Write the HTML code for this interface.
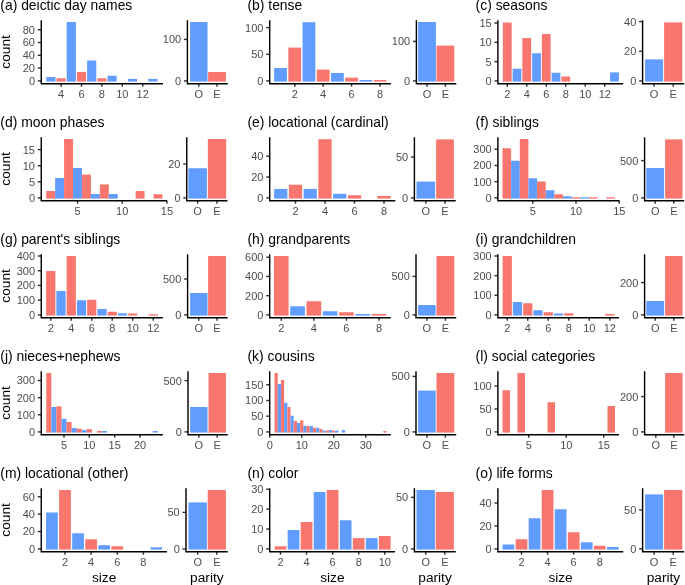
<!DOCTYPE html>
<html><head><meta charset="utf-8"><style>
html,body{margin:0;padding:0;background:#fff;}
svg{display:block;will-change:transform;}
.t{font-family:"Liberation Sans",sans-serif;font-size:13.7px;fill:#000;}
.l{font-family:"Liberation Sans",sans-serif;font-size:11px;fill:#4D4D4D;}

.tt{font-size:13.9px;}
.tk{stroke:#333333;stroke-width:1.42;}
.ax{stroke:#000;stroke-width:1.42;fill:none;stroke-linejoin:miter;stroke-linecap:butt;}
</style></head><body>
<svg width="685" height="585" viewBox="0 0 685 585">
<rect width="685" height="585" fill="#fff"/>
<text x="0.3" y="9.7" class="t tt">(a) deictic day names</text>
<text transform="translate(10,51.9) rotate(-90)" text-anchor="middle" class="t">count</text>
<rect x="46.31" y="77" width="9.18" height="4.6" fill="#619CFF"/>
<rect x="56.51" y="78.3" width="9.18" height="3.3" fill="#F8766D"/>
<rect x="66.71" y="22" width="9.18" height="59.6" fill="#619CFF"/>
<rect x="76.91" y="71.9" width="9.18" height="9.7" fill="#F8766D"/>
<rect x="87.11" y="60.5" width="9.18" height="21.1" fill="#619CFF"/>
<rect x="97.31" y="78.3" width="9.18" height="3.3" fill="#F8766D"/>
<rect x="107.51" y="75.7" width="9.18" height="5.9" fill="#619CFF"/>
<rect x="127.91" y="78.9" width="9.18" height="2.7" fill="#619CFF"/>
<rect x="148.31" y="78.9" width="9.18" height="2.7" fill="#619CFF"/>
<rect x="190.1" y="22" width="17.4" height="59.6" fill="#619CFF"/>
<rect x="208.1" y="72" width="17.8" height="9.6" fill="#F8766D"/>
<line x1="37.75" x2="41.25" y1="80.9" y2="80.9" class="tk"/>
<text x="35" y="84.8" text-anchor="end" class="l">0</text>
<line x1="37.75" x2="41.25" y1="68.1" y2="68.1" class="tk"/>
<text x="35" y="72" text-anchor="end" class="l">20</text>
<line x1="37.75" x2="41.25" y1="55.3" y2="55.3" class="tk"/>
<text x="35" y="59.2" text-anchor="end" class="l">40</text>
<line x1="37.75" x2="41.25" y1="42.5" y2="42.5" class="tk"/>
<text x="35" y="46.4" text-anchor="end" class="l">60</text>
<line x1="37.75" x2="41.25" y1="29.7" y2="29.7" class="tk"/>
<text x="35" y="33.6" text-anchor="end" class="l">80</text>
<line x1="61.1" x2="61.1" y1="83.7" y2="86.7" class="tk"/>
<text x="61.1" y="98" text-anchor="middle" class="l">4</text>
<line x1="81.5" x2="81.5" y1="83.7" y2="86.7" class="tk"/>
<text x="81.5" y="98" text-anchor="middle" class="l">6</text>
<line x1="101.9" x2="101.9" y1="83.7" y2="86.7" class="tk"/>
<text x="101.9" y="98" text-anchor="middle" class="l">8</text>
<line x1="122.3" x2="122.3" y1="83.7" y2="86.7" class="tk"/>
<text x="122.3" y="98" text-anchor="middle" class="l">10</text>
<line x1="142.7" x2="142.7" y1="83.7" y2="86.7" class="tk"/>
<text x="142.7" y="98" text-anchor="middle" class="l">12</text>
<path d="M41.25 20.2V83.7H163" class="ax"/>
<line x1="183.9" x2="187.4" y1="80.9" y2="80.9" class="tk"/>
<text x="181.15" y="84.8" text-anchor="end" class="l">0</text>
<line x1="183.9" x2="187.4" y1="39.4" y2="39.4" class="tk"/>
<text x="181.15" y="43.3" text-anchor="end" class="l">100</text>
<line x1="198.8" x2="198.8" y1="83.7" y2="86.7" class="tk"/>
<text x="198.8" y="98" text-anchor="middle" class="l">O</text>
<line x1="217" x2="217" y1="83.7" y2="86.7" class="tk"/>
<text x="217" y="98" text-anchor="middle" class="l">E</text>
<path d="M187.4 20.2V83.7H227.7" class="ax"/>
<text x="247.45" y="9.7" class="t tt">(b) tense</text>
<rect x="274.15" y="68" width="12.79" height="13.6" fill="#619CFF"/>
<rect x="288.36" y="47.6" width="12.79" height="34" fill="#F8766D"/>
<rect x="302.56" y="22.2" width="12.79" height="59.4" fill="#619CFF"/>
<rect x="316.77" y="69.6" width="12.79" height="12" fill="#F8766D"/>
<rect x="330.98" y="73" width="12.79" height="8.6" fill="#619CFF"/>
<rect x="345.19" y="77.6" width="12.79" height="4" fill="#F8766D"/>
<rect x="359.4" y="80" width="12.79" height="1.6" fill="#619CFF"/>
<rect x="373.61" y="80" width="12.79" height="1.6" fill="#F8766D"/>
<rect x="418.1" y="22" width="17.8" height="59.6" fill="#619CFF"/>
<rect x="436.5" y="45.6" width="17.8" height="36" fill="#F8766D"/>
<line x1="266.2" x2="269.7" y1="80.9" y2="80.9" class="tk"/>
<text x="263.45" y="84.8" text-anchor="end" class="l">0</text>
<line x1="266.2" x2="269.7" y1="54.25" y2="54.25" class="tk"/>
<text x="263.45" y="58.15" text-anchor="end" class="l">50</text>
<line x1="266.2" x2="269.7" y1="27.6" y2="27.6" class="tk"/>
<text x="263.45" y="31.5" text-anchor="end" class="l">100</text>
<line x1="294.75" x2="294.75" y1="83.7" y2="86.7" class="tk"/>
<text x="294.75" y="98" text-anchor="middle" class="l">2</text>
<line x1="323.17" x2="323.17" y1="83.7" y2="86.7" class="tk"/>
<text x="323.17" y="98" text-anchor="middle" class="l">4</text>
<line x1="351.58" x2="351.58" y1="83.7" y2="86.7" class="tk"/>
<text x="351.58" y="98" text-anchor="middle" class="l">6</text>
<line x1="380" x2="380" y1="83.7" y2="86.7" class="tk"/>
<text x="380" y="98" text-anchor="middle" class="l">8</text>
<path d="M269.7 20.2V83.7H390.8" class="ax"/>
<line x1="412.9" x2="416.4" y1="80.9" y2="80.9" class="tk"/>
<text x="410.15" y="84.8" text-anchor="end" class="l">0</text>
<line x1="412.9" x2="416.4" y1="41.4" y2="41.4" class="tk"/>
<text x="410.15" y="45.3" text-anchor="end" class="l">100</text>
<line x1="427" x2="427" y1="83.7" y2="86.7" class="tk"/>
<text x="427" y="98" text-anchor="middle" class="l">O</text>
<line x1="445.4" x2="445.4" y1="83.7" y2="86.7" class="tk"/>
<text x="445.4" y="98" text-anchor="middle" class="l">E</text>
<path d="M416.4 20.2V83.7H456.3" class="ax"/>
<text x="475.6" y="9.7" class="t tt">(c) seasons</text>
<rect x="502.86" y="22.5" width="8.78" height="59.1" fill="#F8766D"/>
<rect x="512.61" y="68.75" width="8.78" height="12.85" fill="#619CFF"/>
<rect x="522.36" y="38" width="8.78" height="43.6" fill="#F8766D"/>
<rect x="532.11" y="53.25" width="8.78" height="28.35" fill="#619CFF"/>
<rect x="541.86" y="34" width="8.78" height="47.6" fill="#F8766D"/>
<rect x="551.61" y="72.75" width="8.78" height="8.85" fill="#619CFF"/>
<rect x="561.36" y="76.5" width="8.78" height="5.1" fill="#F8766D"/>
<rect x="610.11" y="72.4" width="8.78" height="9.2" fill="#619CFF"/>
<rect x="645.1" y="59.4" width="18" height="22.2" fill="#619CFF"/>
<rect x="664.1" y="22.4" width="18.2" height="59.2" fill="#F8766D"/>
<line x1="494.4" x2="497.9" y1="80.9" y2="80.9" class="tk"/>
<text x="491.65" y="84.8" text-anchor="end" class="l">0</text>
<line x1="494.4" x2="497.9" y1="61.6" y2="61.6" class="tk"/>
<text x="491.65" y="65.5" text-anchor="end" class="l">5</text>
<line x1="494.4" x2="497.9" y1="42.3" y2="42.3" class="tk"/>
<text x="491.65" y="46.2" text-anchor="end" class="l">10</text>
<line x1="494.4" x2="497.9" y1="23" y2="23" class="tk"/>
<text x="491.65" y="26.9" text-anchor="end" class="l">15</text>
<line x1="507.25" x2="507.25" y1="83.7" y2="86.7" class="tk"/>
<text x="507.25" y="98" text-anchor="middle" class="l">2</text>
<line x1="526.75" x2="526.75" y1="83.7" y2="86.7" class="tk"/>
<text x="526.75" y="98" text-anchor="middle" class="l">4</text>
<line x1="546.25" x2="546.25" y1="83.7" y2="86.7" class="tk"/>
<text x="546.25" y="98" text-anchor="middle" class="l">6</text>
<line x1="565.75" x2="565.75" y1="83.7" y2="86.7" class="tk"/>
<text x="565.75" y="98" text-anchor="middle" class="l">8</text>
<line x1="585.25" x2="585.25" y1="83.7" y2="86.7" class="tk"/>
<text x="585.25" y="98" text-anchor="middle" class="l">10</text>
<line x1="604.75" x2="604.75" y1="83.7" y2="86.7" class="tk"/>
<text x="604.75" y="98" text-anchor="middle" class="l">12</text>
<path d="M497.9 20.2V83.7H623.2" class="ax"/>
<line x1="639.1" x2="642.6" y1="80.9" y2="80.9" class="tk"/>
<text x="636.35" y="84.8" text-anchor="end" class="l">0</text>
<line x1="639.1" x2="642.6" y1="51.25" y2="51.25" class="tk"/>
<text x="636.35" y="55.15" text-anchor="end" class="l">20</text>
<line x1="639.1" x2="642.6" y1="21.6" y2="21.6" class="tk"/>
<text x="636.35" y="25.5" text-anchor="end" class="l">40</text>
<line x1="654.1" x2="654.1" y1="83.7" y2="86.7" class="tk"/>
<text x="654.1" y="98" text-anchor="middle" class="l">O</text>
<line x1="673.2" x2="673.2" y1="83.7" y2="86.7" class="tk"/>
<text x="673.2" y="98" text-anchor="middle" class="l">E</text>
<path d="M642.6 20.2V83.7H684.2" class="ax"/>
<text x="0.3" y="126.7" class="t tt">(d) moon phases</text>
<text transform="translate(10,168.9) rotate(-90)" text-anchor="middle" class="t">count</text>
<rect x="46.21" y="191" width="8.94" height="7.6" fill="#F8766D"/>
<rect x="55.15" y="178" width="8.94" height="20.6" fill="#619CFF"/>
<rect x="64.09" y="139" width="8.94" height="59.6" fill="#F8766D"/>
<rect x="73.03" y="168" width="8.94" height="30.6" fill="#619CFF"/>
<rect x="81.97" y="174.6" width="8.94" height="24" fill="#F8766D"/>
<rect x="90.91" y="194" width="8.94" height="4.6" fill="#619CFF"/>
<rect x="99.85" y="184.4" width="8.94" height="14.2" fill="#F8766D"/>
<rect x="108.79" y="194" width="8.94" height="4.6" fill="#619CFF"/>
<rect x="135.61" y="191" width="8.94" height="7.6" fill="#F8766D"/>
<rect x="153.49" y="194.25" width="8.94" height="4.35" fill="#F8766D"/>
<rect x="188.35" y="168.25" width="18.55" height="30.35" fill="#619CFF"/>
<rect x="207.85" y="139" width="18.3" height="59.6" fill="#F8766D"/>
<line x1="37.75" x2="41.25" y1="197.9" y2="197.9" class="tk"/>
<text x="35" y="201.8" text-anchor="end" class="l">0</text>
<line x1="37.75" x2="41.25" y1="181.8" y2="181.8" class="tk"/>
<text x="35" y="185.7" text-anchor="end" class="l">5</text>
<line x1="37.75" x2="41.25" y1="165.7" y2="165.7" class="tk"/>
<text x="35" y="169.6" text-anchor="end" class="l">10</text>
<line x1="37.75" x2="41.25" y1="149.6" y2="149.6" class="tk"/>
<text x="35" y="153.5" text-anchor="end" class="l">15</text>
<line x1="77.5" x2="77.5" y1="200.7" y2="203.7" class="tk"/>
<text x="77.5" y="215" text-anchor="middle" class="l">5</text>
<line x1="122.2" x2="122.2" y1="200.7" y2="203.7" class="tk"/>
<text x="122.2" y="215" text-anchor="middle" class="l">10</text>
<line x1="166.9" x2="166.9" y1="200.7" y2="203.7" class="tk"/>
<text x="166.9" y="215" text-anchor="middle" class="l">15</text>
<path d="M41.25 137.2V200.7H167.2" class="ax"/>
<line x1="183.25" x2="186.75" y1="197.9" y2="197.9" class="tk"/>
<text x="180.5" y="201.8" text-anchor="end" class="l">0</text>
<line x1="183.25" x2="186.75" y1="164" y2="164" class="tk"/>
<text x="180.5" y="167.9" text-anchor="end" class="l">20</text>
<line x1="197.62" x2="197.62" y1="200.7" y2="203.7" class="tk"/>
<text x="197.62" y="215" text-anchor="middle" class="l">O</text>
<line x1="217" x2="217" y1="200.7" y2="203.7" class="tk"/>
<text x="217" y="215" text-anchor="middle" class="l">E</text>
<path d="M186.75 137.2V200.7H227.5" class="ax"/>
<text x="247.45" y="126.7" class="t tt">(e) locational (cardinal)</text>
<rect x="274.11" y="188.9" width="13.28" height="9.7" fill="#619CFF"/>
<rect x="288.86" y="184.7" width="13.28" height="13.9" fill="#F8766D"/>
<rect x="303.61" y="188.9" width="13.28" height="9.7" fill="#619CFF"/>
<rect x="318.36" y="139.2" width="13.28" height="59.4" fill="#F8766D"/>
<rect x="333.11" y="193.8" width="13.28" height="4.8" fill="#619CFF"/>
<rect x="347.86" y="195.25" width="13.28" height="3.35" fill="#F8766D"/>
<rect x="377.36" y="196" width="13.28" height="2.6" fill="#F8766D"/>
<rect x="416.5" y="181.6" width="18.6" height="17" fill="#619CFF"/>
<rect x="436.1" y="139.4" width="17.8" height="59.2" fill="#F8766D"/>
<line x1="266.2" x2="269.7" y1="197.9" y2="197.9" class="tk"/>
<text x="263.45" y="201.8" text-anchor="end" class="l">0</text>
<line x1="266.2" x2="269.7" y1="177.05" y2="177.05" class="tk"/>
<text x="263.45" y="180.95" text-anchor="end" class="l">20</text>
<line x1="266.2" x2="269.7" y1="156.2" y2="156.2" class="tk"/>
<text x="263.45" y="160.1" text-anchor="end" class="l">40</text>
<line x1="295.5" x2="295.5" y1="200.7" y2="203.7" class="tk"/>
<text x="295.5" y="215" text-anchor="middle" class="l">2</text>
<line x1="325" x2="325" y1="200.7" y2="203.7" class="tk"/>
<text x="325" y="215" text-anchor="middle" class="l">4</text>
<line x1="354.5" x2="354.5" y1="200.7" y2="203.7" class="tk"/>
<text x="354.5" y="215" text-anchor="middle" class="l">6</text>
<line x1="384" x2="384" y1="200.7" y2="203.7" class="tk"/>
<text x="384" y="215" text-anchor="middle" class="l">8</text>
<path d="M269.7 137.2V200.7H395.3" class="ax"/>
<line x1="410.9" x2="414.4" y1="197.9" y2="197.9" class="tk"/>
<text x="408.15" y="201.8" text-anchor="end" class="l">0</text>
<line x1="410.9" x2="414.4" y1="157" y2="157" class="tk"/>
<text x="408.15" y="160.9" text-anchor="end" class="l">50</text>
<line x1="425.8" x2="425.8" y1="200.7" y2="203.7" class="tk"/>
<text x="425.8" y="215" text-anchor="middle" class="l">O</text>
<line x1="445" x2="445" y1="200.7" y2="203.7" class="tk"/>
<text x="445" y="215" text-anchor="middle" class="l">E</text>
<path d="M414.4 137.2V200.7H455.7" class="ax"/>
<text x="475.6" y="126.7" class="t tt">(f) siblings</text>
<rect x="502.48" y="148.25" width="8.65" height="50.35" fill="#F8766D"/>
<rect x="511.13" y="160.75" width="8.65" height="37.85" fill="#619CFF"/>
<rect x="519.77" y="139" width="8.65" height="59.6" fill="#F8766D"/>
<rect x="528.42" y="178.25" width="8.65" height="20.35" fill="#619CFF"/>
<rect x="537.07" y="181.5" width="8.65" height="17.1" fill="#F8766D"/>
<rect x="545.72" y="190.25" width="8.65" height="8.35" fill="#619CFF"/>
<rect x="554.38" y="194.25" width="8.65" height="4.35" fill="#F8766D"/>
<rect x="563.02" y="196.25" width="8.65" height="2.35" fill="#619CFF"/>
<rect x="571.67" y="197.25" width="8.65" height="1.35" fill="#F8766D"/>
<rect x="580.32" y="197.25" width="8.65" height="1.35" fill="#619CFF"/>
<rect x="588.97" y="197.25" width="8.65" height="1.35" fill="#F8766D"/>
<rect x="606.27" y="197.25" width="8.65" height="1.35" fill="#F8766D"/>
<rect x="646.3" y="168" width="17.8" height="30.6" fill="#619CFF"/>
<rect x="665.1" y="139.4" width="17.4" height="59.2" fill="#F8766D"/>
<line x1="494.4" x2="497.9" y1="197.9" y2="197.9" class="tk"/>
<text x="491.65" y="201.8" text-anchor="end" class="l">0</text>
<line x1="494.4" x2="497.9" y1="181.68" y2="181.68" class="tk"/>
<text x="491.65" y="185.58" text-anchor="end" class="l">100</text>
<line x1="494.4" x2="497.9" y1="165.47" y2="165.47" class="tk"/>
<text x="491.65" y="169.37" text-anchor="end" class="l">200</text>
<line x1="494.4" x2="497.9" y1="149.25" y2="149.25" class="tk"/>
<text x="491.65" y="153.15" text-anchor="end" class="l">300</text>
<line x1="532.75" x2="532.75" y1="200.7" y2="203.7" class="tk"/>
<text x="532.75" y="215" text-anchor="middle" class="l">5</text>
<line x1="576" x2="576" y1="200.7" y2="203.7" class="tk"/>
<text x="576" y="215" text-anchor="middle" class="l">10</text>
<line x1="619.25" x2="619.25" y1="200.7" y2="203.7" class="tk"/>
<text x="619.25" y="215" text-anchor="middle" class="l">15</text>
<path d="M497.9 137.2V200.7H619.5" class="ax"/>
<line x1="641.1" x2="644.6" y1="197.9" y2="197.9" class="tk"/>
<text x="638.35" y="201.8" text-anchor="end" class="l">0</text>
<line x1="641.1" x2="644.6" y1="160.6" y2="160.6" class="tk"/>
<text x="638.35" y="164.5" text-anchor="end" class="l">500</text>
<line x1="655.2" x2="655.2" y1="200.7" y2="203.7" class="tk"/>
<text x="655.2" y="215" text-anchor="middle" class="l">O</text>
<line x1="673.8" x2="673.8" y1="200.7" y2="203.7" class="tk"/>
<text x="673.8" y="215" text-anchor="middle" class="l">E</text>
<path d="M644.6 137.2V200.7H684.2" class="ax"/>
<text x="0.3" y="243.7" class="t tt">(g) parent's siblings</text>
<text transform="translate(10,285.9) rotate(-90)" text-anchor="middle" class="t">count</text>
<rect x="46.14" y="271" width="9.22" height="44.6" fill="#F8766D"/>
<rect x="56.39" y="291" width="9.22" height="24.6" fill="#619CFF"/>
<rect x="66.64" y="256" width="9.22" height="59.6" fill="#F8766D"/>
<rect x="76.89" y="300.25" width="9.22" height="15.35" fill="#619CFF"/>
<rect x="87.14" y="299.75" width="9.22" height="15.85" fill="#F8766D"/>
<rect x="97.39" y="309" width="9.22" height="6.6" fill="#619CFF"/>
<rect x="107.64" y="311.75" width="9.22" height="3.85" fill="#F8766D"/>
<rect x="117.89" y="313.25" width="9.22" height="2.35" fill="#619CFF"/>
<rect x="128.14" y="313.5" width="9.22" height="2.1" fill="#F8766D"/>
<rect x="148.64" y="314.25" width="9.22" height="1.35" fill="#F8766D"/>
<rect x="190.1" y="293" width="17.4" height="22.6" fill="#619CFF"/>
<rect x="208.1" y="256" width="17.8" height="59.6" fill="#F8766D"/>
<line x1="37.75" x2="41.25" y1="314.9" y2="314.9" class="tk"/>
<text x="35" y="318.8" text-anchor="end" class="l">0</text>
<line x1="37.75" x2="41.25" y1="300.17" y2="300.17" class="tk"/>
<text x="35" y="304.07" text-anchor="end" class="l">100</text>
<line x1="37.75" x2="41.25" y1="285.45" y2="285.45" class="tk"/>
<text x="35" y="289.35" text-anchor="end" class="l">200</text>
<line x1="37.75" x2="41.25" y1="270.73" y2="270.73" class="tk"/>
<text x="35" y="274.62" text-anchor="end" class="l">300</text>
<line x1="37.75" x2="41.25" y1="256" y2="256" class="tk"/>
<text x="35" y="259.9" text-anchor="end" class="l">400</text>
<line x1="50.75" x2="50.75" y1="317.7" y2="320.7" class="tk"/>
<text x="50.75" y="332" text-anchor="middle" class="l">2</text>
<line x1="71.25" x2="71.25" y1="317.7" y2="320.7" class="tk"/>
<text x="71.25" y="332" text-anchor="middle" class="l">4</text>
<line x1="91.75" x2="91.75" y1="317.7" y2="320.7" class="tk"/>
<text x="91.75" y="332" text-anchor="middle" class="l">6</text>
<line x1="112.25" x2="112.25" y1="317.7" y2="320.7" class="tk"/>
<text x="112.25" y="332" text-anchor="middle" class="l">8</text>
<line x1="132.75" x2="132.75" y1="317.7" y2="320.7" class="tk"/>
<text x="132.75" y="332" text-anchor="middle" class="l">10</text>
<line x1="153.25" x2="153.25" y1="317.7" y2="320.7" class="tk"/>
<text x="153.25" y="332" text-anchor="middle" class="l">12</text>
<path d="M41.25 254.2V317.7H162.8" class="ax"/>
<line x1="184.1" x2="187.6" y1="314.9" y2="314.9" class="tk"/>
<text x="181.35" y="318.8" text-anchor="end" class="l">0</text>
<line x1="184.1" x2="187.6" y1="279" y2="279" class="tk"/>
<text x="181.35" y="282.9" text-anchor="end" class="l">500</text>
<line x1="198.8" x2="198.8" y1="317.7" y2="320.7" class="tk"/>
<text x="198.8" y="332" text-anchor="middle" class="l">O</text>
<line x1="217" x2="217" y1="317.7" y2="320.7" class="tk"/>
<text x="217" y="332" text-anchor="middle" class="l">E</text>
<path d="M187.6 254.2V317.7H227.7" class="ax"/>
<text x="247.45" y="243.7" class="t tt">(h) grandparents</text>
<rect x="273.92" y="256" width="14.66" height="59.6" fill="#F8766D"/>
<rect x="290.21" y="306.25" width="14.66" height="9.35" fill="#619CFF"/>
<rect x="306.5" y="301.25" width="14.66" height="14.35" fill="#F8766D"/>
<rect x="322.79" y="311.25" width="14.66" height="4.35" fill="#619CFF"/>
<rect x="339.09" y="312.25" width="14.66" height="3.35" fill="#F8766D"/>
<rect x="355.38" y="314" width="14.66" height="1.6" fill="#619CFF"/>
<rect x="371.67" y="314" width="14.66" height="1.6" fill="#F8766D"/>
<rect x="418.1" y="305" width="17.6" height="10.6" fill="#619CFF"/>
<rect x="436.5" y="256" width="17.8" height="59.6" fill="#F8766D"/>
<line x1="266.2" x2="269.7" y1="314.9" y2="314.9" class="tk"/>
<text x="263.45" y="318.8" text-anchor="end" class="l">0</text>
<line x1="266.2" x2="269.7" y1="295.68" y2="295.68" class="tk"/>
<text x="263.45" y="299.58" text-anchor="end" class="l">200</text>
<line x1="266.2" x2="269.7" y1="276.47" y2="276.47" class="tk"/>
<text x="263.45" y="280.37" text-anchor="end" class="l">400</text>
<line x1="266.2" x2="269.7" y1="257.25" y2="257.25" class="tk"/>
<text x="263.45" y="261.15" text-anchor="end" class="l">600</text>
<line x1="281.25" x2="281.25" y1="317.7" y2="320.7" class="tk"/>
<text x="281.25" y="332" text-anchor="middle" class="l">2</text>
<line x1="313.83" x2="313.83" y1="317.7" y2="320.7" class="tk"/>
<text x="313.83" y="332" text-anchor="middle" class="l">4</text>
<line x1="346.42" x2="346.42" y1="317.7" y2="320.7" class="tk"/>
<text x="346.42" y="332" text-anchor="middle" class="l">6</text>
<line x1="379" x2="379" y1="317.7" y2="320.7" class="tk"/>
<text x="379" y="332" text-anchor="middle" class="l">8</text>
<path d="M269.7 254.2V317.7H390.8" class="ax"/>
<line x1="412.5" x2="416" y1="314.9" y2="314.9" class="tk"/>
<text x="409.75" y="318.8" text-anchor="end" class="l">0</text>
<line x1="412.5" x2="416" y1="276.4" y2="276.4" class="tk"/>
<text x="409.75" y="280.3" text-anchor="end" class="l">500</text>
<line x1="426.9" x2="426.9" y1="317.7" y2="320.7" class="tk"/>
<text x="426.9" y="332" text-anchor="middle" class="l">O</text>
<line x1="445.4" x2="445.4" y1="317.7" y2="320.7" class="tk"/>
<text x="445.4" y="332" text-anchor="middle" class="l">E</text>
<path d="M416 254.2V317.7H456.2" class="ax"/>
<text x="475.6" y="243.7" class="t tt">(i) grandchildren</text>
<rect x="502.64" y="256" width="9.22" height="59.6" fill="#F8766D"/>
<rect x="512.89" y="302" width="9.22" height="13.6" fill="#619CFF"/>
<rect x="523.14" y="303.25" width="9.22" height="12.35" fill="#F8766D"/>
<rect x="533.39" y="310.25" width="9.22" height="5.35" fill="#619CFF"/>
<rect x="543.64" y="312.25" width="9.22" height="3.35" fill="#F8766D"/>
<rect x="553.89" y="313.5" width="9.22" height="2.1" fill="#619CFF"/>
<rect x="564.14" y="313.25" width="9.22" height="2.35" fill="#F8766D"/>
<rect x="605.14" y="314" width="9.22" height="1.6" fill="#F8766D"/>
<rect x="646.3" y="301" width="17.8" height="14.6" fill="#619CFF"/>
<rect x="665.1" y="256" width="17.4" height="59.6" fill="#F8766D"/>
<line x1="494.4" x2="497.9" y1="314.9" y2="314.9" class="tk"/>
<text x="491.65" y="318.8" text-anchor="end" class="l">0</text>
<line x1="494.4" x2="497.9" y1="295.27" y2="295.27" class="tk"/>
<text x="491.65" y="299.17" text-anchor="end" class="l">100</text>
<line x1="494.4" x2="497.9" y1="275.63" y2="275.63" class="tk"/>
<text x="491.65" y="279.53" text-anchor="end" class="l">200</text>
<line x1="494.4" x2="497.9" y1="256" y2="256" class="tk"/>
<text x="491.65" y="259.9" text-anchor="end" class="l">300</text>
<line x1="507.25" x2="507.25" y1="317.7" y2="320.7" class="tk"/>
<text x="507.25" y="332" text-anchor="middle" class="l">2</text>
<line x1="527.75" x2="527.75" y1="317.7" y2="320.7" class="tk"/>
<text x="527.75" y="332" text-anchor="middle" class="l">4</text>
<line x1="548.25" x2="548.25" y1="317.7" y2="320.7" class="tk"/>
<text x="548.25" y="332" text-anchor="middle" class="l">6</text>
<line x1="568.75" x2="568.75" y1="317.7" y2="320.7" class="tk"/>
<text x="568.75" y="332" text-anchor="middle" class="l">8</text>
<line x1="589.25" x2="589.25" y1="317.7" y2="320.7" class="tk"/>
<text x="589.25" y="332" text-anchor="middle" class="l">10</text>
<line x1="609.75" x2="609.75" y1="317.7" y2="320.7" class="tk"/>
<text x="609.75" y="332" text-anchor="middle" class="l">12</text>
<path d="M497.9 254.2V317.7H619" class="ax"/>
<line x1="641.1" x2="644.6" y1="314.9" y2="314.9" class="tk"/>
<text x="638.35" y="318.8" text-anchor="end" class="l">0</text>
<line x1="641.1" x2="644.6" y1="282.6" y2="282.6" class="tk"/>
<text x="638.35" y="286.5" text-anchor="end" class="l">200</text>
<line x1="655.2" x2="655.2" y1="317.7" y2="320.7" class="tk"/>
<text x="655.2" y="332" text-anchor="middle" class="l">O</text>
<line x1="673.8" x2="673.8" y1="317.7" y2="320.7" class="tk"/>
<text x="673.8" y="332" text-anchor="middle" class="l">E</text>
<path d="M644.6 254.2V317.7H684.2" class="ax"/>
<text x="0.3" y="360.7" class="t tt">(j) nieces+nephews</text>
<text transform="translate(10,402.9) rotate(-90)" text-anchor="middle" class="t">count</text>
<rect x="46.27" y="373" width="5.07" height="59.6" fill="#F8766D"/>
<rect x="51.33" y="407" width="5.07" height="25.6" fill="#619CFF"/>
<rect x="56.4" y="406.3" width="5.07" height="26.3" fill="#F8766D"/>
<rect x="61.47" y="418.8" width="5.07" height="13.8" fill="#619CFF"/>
<rect x="66.53" y="422" width="5.07" height="10.6" fill="#F8766D"/>
<rect x="71.6" y="428" width="5.07" height="4.6" fill="#619CFF"/>
<rect x="76.67" y="428.7" width="5.07" height="3.9" fill="#F8766D"/>
<rect x="81.73" y="430.1" width="5.07" height="2.5" fill="#619CFF"/>
<rect x="86.8" y="429.1" width="5.07" height="3.5" fill="#F8766D"/>
<rect x="96.93" y="431" width="5.07" height="1.6" fill="#F8766D"/>
<rect x="102" y="431" width="5.07" height="1.6" fill="#619CFF"/>
<rect x="152.67" y="431" width="5.07" height="1.6" fill="#619CFF"/>
<rect x="190.1" y="407" width="17.4" height="25.6" fill="#619CFF"/>
<rect x="208.5" y="373" width="17.4" height="59.6" fill="#F8766D"/>
<line x1="37.75" x2="41.25" y1="431.9" y2="431.9" class="tk"/>
<text x="35" y="435.8" text-anchor="end" class="l">0</text>
<line x1="37.75" x2="41.25" y1="414.77" y2="414.77" class="tk"/>
<text x="35" y="418.67" text-anchor="end" class="l">100</text>
<line x1="37.75" x2="41.25" y1="397.63" y2="397.63" class="tk"/>
<text x="35" y="401.53" text-anchor="end" class="l">200</text>
<line x1="37.75" x2="41.25" y1="380.5" y2="380.5" class="tk"/>
<text x="35" y="384.4" text-anchor="end" class="l">300</text>
<line x1="64" x2="64" y1="434.7" y2="437.7" class="tk"/>
<text x="64" y="449" text-anchor="middle" class="l">5</text>
<line x1="89.33" x2="89.33" y1="434.7" y2="437.7" class="tk"/>
<text x="89.33" y="449" text-anchor="middle" class="l">10</text>
<line x1="114.67" x2="114.67" y1="434.7" y2="437.7" class="tk"/>
<text x="114.67" y="449" text-anchor="middle" class="l">15</text>
<line x1="140" x2="140" y1="434.7" y2="437.7" class="tk"/>
<text x="140" y="449" text-anchor="middle" class="l">20</text>
<path d="M41.25 371.2V434.7H162.8" class="ax"/>
<line x1="184.5" x2="188" y1="431.9" y2="431.9" class="tk"/>
<text x="181.75" y="435.8" text-anchor="end" class="l">0</text>
<line x1="184.5" x2="188" y1="380.6" y2="380.6" class="tk"/>
<text x="181.75" y="384.5" text-anchor="end" class="l">500</text>
<line x1="198.8" x2="198.8" y1="434.7" y2="437.7" class="tk"/>
<text x="198.8" y="449" text-anchor="middle" class="l">O</text>
<line x1="217.2" x2="217.2" y1="434.7" y2="437.7" class="tk"/>
<text x="217.2" y="449" text-anchor="middle" class="l">E</text>
<path d="M188 371.2V434.7H227.7" class="ax"/>
<text x="247.45" y="360.7" class="t tt">(k) cousins</text>
<rect x="274.55" y="373" width="3.2" height="59.6" fill="#F8766D"/>
<rect x="277.75" y="384.1" width="3.2" height="48.5" fill="#619CFF"/>
<rect x="280.95" y="380" width="3.2" height="52.6" fill="#F8766D"/>
<rect x="284.15" y="402.7" width="3.2" height="29.9" fill="#619CFF"/>
<rect x="287.35" y="406.9" width="3.2" height="25.7" fill="#F8766D"/>
<rect x="290.55" y="415.8" width="3.2" height="16.8" fill="#619CFF"/>
<rect x="293.75" y="420.9" width="3.2" height="11.7" fill="#F8766D"/>
<rect x="296.95" y="423" width="3.2" height="9.6" fill="#619CFF"/>
<rect x="300.15" y="420.4" width="3.2" height="12.2" fill="#F8766D"/>
<rect x="303.35" y="425.7" width="3.2" height="6.9" fill="#619CFF"/>
<rect x="306.55" y="426" width="3.2" height="6.6" fill="#F8766D"/>
<rect x="309.75" y="426" width="3.2" height="6.6" fill="#619CFF"/>
<rect x="312.95" y="427.8" width="3.2" height="4.8" fill="#F8766D"/>
<rect x="316.15" y="427.8" width="3.2" height="4.8" fill="#619CFF"/>
<rect x="319.35" y="429" width="3.2" height="3.6" fill="#F8766D"/>
<rect x="322.55" y="430.6" width="3.2" height="2" fill="#619CFF"/>
<rect x="325.75" y="430.6" width="3.2" height="2" fill="#F8766D"/>
<rect x="328.95" y="430" width="3.2" height="2.6" fill="#619CFF"/>
<rect x="332.15" y="430.6" width="3.2" height="2" fill="#F8766D"/>
<rect x="335.35" y="430.6" width="3.2" height="2" fill="#619CFF"/>
<rect x="341.75" y="430" width="3.2" height="2.6" fill="#619CFF"/>
<rect x="383.35" y="431" width="3.2" height="1.6" fill="#F8766D"/>
<rect x="418.1" y="390.6" width="17.6" height="42" fill="#619CFF"/>
<rect x="436.5" y="373" width="17.8" height="59.6" fill="#F8766D"/>
<line x1="266.2" x2="269.7" y1="431.9" y2="431.9" class="tk"/>
<text x="263.45" y="435.8" text-anchor="end" class="l">0</text>
<line x1="266.2" x2="269.7" y1="416.18" y2="416.18" class="tk"/>
<text x="263.45" y="420.08" text-anchor="end" class="l">50</text>
<line x1="266.2" x2="269.7" y1="400.47" y2="400.47" class="tk"/>
<text x="263.45" y="404.37" text-anchor="end" class="l">100</text>
<line x1="266.2" x2="269.7" y1="384.75" y2="384.75" class="tk"/>
<text x="263.45" y="388.65" text-anchor="end" class="l">150</text>
<line x1="269.75" x2="269.75" y1="434.7" y2="437.7" class="tk"/>
<text x="269.75" y="449" text-anchor="middle" class="l">0</text>
<line x1="301.75" x2="301.75" y1="434.7" y2="437.7" class="tk"/>
<text x="301.75" y="449" text-anchor="middle" class="l">10</text>
<line x1="333.75" x2="333.75" y1="434.7" y2="437.7" class="tk"/>
<text x="333.75" y="449" text-anchor="middle" class="l">20</text>
<line x1="365.75" x2="365.75" y1="434.7" y2="437.7" class="tk"/>
<text x="365.75" y="449" text-anchor="middle" class="l">30</text>
<path d="M269.7 371.2V434.7H390.8" class="ax"/>
<line x1="412.5" x2="416" y1="431.9" y2="431.9" class="tk"/>
<text x="409.75" y="435.8" text-anchor="end" class="l">0</text>
<line x1="412.5" x2="416" y1="376.4" y2="376.4" class="tk"/>
<text x="409.75" y="380.3" text-anchor="end" class="l">500</text>
<line x1="426.9" x2="426.9" y1="434.7" y2="437.7" class="tk"/>
<text x="426.9" y="449" text-anchor="middle" class="l">O</text>
<line x1="445.4" x2="445.4" y1="434.7" y2="437.7" class="tk"/>
<text x="445.4" y="449" text-anchor="middle" class="l">E</text>
<path d="M416 371.2V434.7H456.2" class="ax"/>
<text x="475.6" y="360.7" class="t tt">(l) social categories</text>
<rect x="502.5" y="390.25" width="7.5" height="42.35" fill="#F8766D"/>
<rect x="517.5" y="373" width="7.5" height="59.6" fill="#F8766D"/>
<rect x="547.5" y="402.25" width="7.5" height="30.35" fill="#F8766D"/>
<rect x="607.5" y="406" width="7.5" height="26.6" fill="#F8766D"/>
<rect x="665.1" y="373" width="17.4" height="59.6" fill="#F8766D"/>
<line x1="494.4" x2="497.9" y1="431.9" y2="431.9" class="tk"/>
<text x="491.65" y="435.8" text-anchor="end" class="l">0</text>
<line x1="494.4" x2="497.9" y1="408.95" y2="408.95" class="tk"/>
<text x="491.65" y="412.85" text-anchor="end" class="l">50</text>
<line x1="494.4" x2="497.9" y1="386" y2="386" class="tk"/>
<text x="491.65" y="389.9" text-anchor="end" class="l">100</text>
<line x1="528.75" x2="528.75" y1="434.7" y2="437.7" class="tk"/>
<text x="528.75" y="449" text-anchor="middle" class="l">5</text>
<line x1="566.25" x2="566.25" y1="434.7" y2="437.7" class="tk"/>
<text x="566.25" y="449" text-anchor="middle" class="l">10</text>
<line x1="603.75" x2="603.75" y1="434.7" y2="437.7" class="tk"/>
<text x="603.75" y="449" text-anchor="middle" class="l">15</text>
<path d="M497.9 371.2V434.7H619" class="ax"/>
<line x1="641.1" x2="644.6" y1="431.9" y2="431.9" class="tk"/>
<text x="638.35" y="435.8" text-anchor="end" class="l">0</text>
<line x1="641.1" x2="644.6" y1="396.6" y2="396.6" class="tk"/>
<text x="638.35" y="400.5" text-anchor="end" class="l">200</text>
<line x1="655.8" x2="655.8" y1="434.7" y2="437.7" class="tk"/>
<text x="655.8" y="449" text-anchor="middle" class="l">O</text>
<line x1="673.8" x2="673.8" y1="434.7" y2="437.7" class="tk"/>
<text x="673.8" y="449" text-anchor="middle" class="l">E</text>
<path d="M644.6 371.2V434.7H684.2" class="ax"/>
<text x="0.3" y="477.7" class="t tt">(m) locational (other)</text>
<text transform="translate(10,519.9) rotate(-90)" text-anchor="middle" class="t">count</text>
<rect x="46.05" y="512.5" width="11.76" height="37.1" fill="#619CFF"/>
<rect x="59.12" y="490" width="11.76" height="59.6" fill="#F8766D"/>
<rect x="72.19" y="533.25" width="11.76" height="16.35" fill="#619CFF"/>
<rect x="85.25" y="539.25" width="11.76" height="10.35" fill="#F8766D"/>
<rect x="98.32" y="545.25" width="11.76" height="4.35" fill="#619CFF"/>
<rect x="111.39" y="546.25" width="11.76" height="3.35" fill="#F8766D"/>
<rect x="150.59" y="547.3" width="11.76" height="2.3" fill="#619CFF"/>
<rect x="188.5" y="502.4" width="18.4" height="47.2" fill="#619CFF"/>
<rect x="207.7" y="490" width="18.2" height="59.6" fill="#F8766D"/>
<line x1="37.75" x2="41.25" y1="548.9" y2="548.9" class="tk"/>
<text x="35" y="552.8" text-anchor="end" class="l">0</text>
<line x1="37.75" x2="41.25" y1="531.52" y2="531.52" class="tk"/>
<text x="35" y="535.42" text-anchor="end" class="l">20</text>
<line x1="37.75" x2="41.25" y1="514.13" y2="514.13" class="tk"/>
<text x="35" y="518.03" text-anchor="end" class="l">40</text>
<line x1="37.75" x2="41.25" y1="496.75" y2="496.75" class="tk"/>
<text x="35" y="500.65" text-anchor="end" class="l">60</text>
<line x1="65" x2="65" y1="551.7" y2="554.7" class="tk"/>
<text x="65" y="566" text-anchor="middle" class="l">2</text>
<line x1="91.13" x2="91.13" y1="551.7" y2="554.7" class="tk"/>
<text x="91.13" y="566" text-anchor="middle" class="l">4</text>
<line x1="117.27" x2="117.27" y1="551.7" y2="554.7" class="tk"/>
<text x="117.27" y="566" text-anchor="middle" class="l">6</text>
<line x1="143.4" x2="143.4" y1="551.7" y2="554.7" class="tk"/>
<text x="143.4" y="566" text-anchor="middle" class="l">8</text>
<path d="M41.25 488.2V551.7H167" class="ax"/>
<line x1="182.5" x2="186" y1="548.9" y2="548.9" class="tk"/>
<text x="179.75" y="552.8" text-anchor="end" class="l">0</text>
<line x1="182.5" x2="186" y1="512.4" y2="512.4" class="tk"/>
<text x="179.75" y="516.3" text-anchor="end" class="l">50</text>
<line x1="197.7" x2="197.7" y1="551.7" y2="554.7" class="tk"/>
<text x="197.7" y="566" text-anchor="middle" class="l">O</text>
<line x1="216.8" x2="216.8" y1="551.7" y2="554.7" class="tk"/>
<text x="216.8" y="566" text-anchor="middle" class="l">E</text>
<path d="M186 488.2V551.7H227.7" class="ax"/>
<text x="104.12" y="581.7" text-anchor="middle" class="t">size</text>
<text x="206.85" y="581.7" text-anchor="middle" class="t">parity</text>
<text x="247.45" y="477.7" class="t tt">(n) color</text>
<rect x="274.64" y="546.25" width="11.73" height="3.35" fill="#F8766D"/>
<rect x="287.67" y="530" width="11.73" height="19.6" fill="#619CFF"/>
<rect x="300.7" y="522" width="11.73" height="27.6" fill="#F8766D"/>
<rect x="313.73" y="492" width="11.73" height="57.6" fill="#619CFF"/>
<rect x="326.76" y="490" width="11.73" height="59.6" fill="#F8766D"/>
<rect x="339.79" y="520.25" width="11.73" height="29.35" fill="#619CFF"/>
<rect x="352.82" y="538.1" width="11.73" height="11.5" fill="#F8766D"/>
<rect x="365.85" y="538.1" width="11.73" height="11.5" fill="#619CFF"/>
<rect x="378.89" y="536" width="11.73" height="13.6" fill="#F8766D"/>
<rect x="416.5" y="490" width="18.4" height="59.6" fill="#619CFF"/>
<rect x="435.7" y="492" width="18.2" height="57.6" fill="#F8766D"/>
<line x1="266.2" x2="269.7" y1="548.9" y2="548.9" class="tk"/>
<text x="263.45" y="552.8" text-anchor="end" class="l">0</text>
<line x1="266.2" x2="269.7" y1="529.02" y2="529.02" class="tk"/>
<text x="263.45" y="532.92" text-anchor="end" class="l">10</text>
<line x1="266.2" x2="269.7" y1="509.13" y2="509.13" class="tk"/>
<text x="263.45" y="513.03" text-anchor="end" class="l">20</text>
<line x1="266.2" x2="269.7" y1="489.25" y2="489.25" class="tk"/>
<text x="263.45" y="493.15" text-anchor="end" class="l">30</text>
<line x1="280.5" x2="280.5" y1="551.7" y2="554.7" class="tk"/>
<text x="280.5" y="566" text-anchor="middle" class="l">2</text>
<line x1="306.56" x2="306.56" y1="551.7" y2="554.7" class="tk"/>
<text x="306.56" y="566" text-anchor="middle" class="l">4</text>
<line x1="332.62" x2="332.62" y1="551.7" y2="554.7" class="tk"/>
<text x="332.62" y="566" text-anchor="middle" class="l">6</text>
<line x1="358.69" x2="358.69" y1="551.7" y2="554.7" class="tk"/>
<text x="358.69" y="566" text-anchor="middle" class="l">8</text>
<line x1="384.75" x2="384.75" y1="551.7" y2="554.7" class="tk"/>
<text x="384.75" y="566" text-anchor="middle" class="l">10</text>
<path d="M269.7 488.2V551.7H395" class="ax"/>
<line x1="410.9" x2="414.4" y1="548.9" y2="548.9" class="tk"/>
<text x="408.15" y="552.8" text-anchor="end" class="l">0</text>
<line x1="410.9" x2="414.4" y1="497.4" y2="497.4" class="tk"/>
<text x="408.15" y="501.3" text-anchor="end" class="l">50</text>
<line x1="425.7" x2="425.7" y1="551.7" y2="554.7" class="tk"/>
<text x="425.7" y="566" text-anchor="middle" class="l">O</text>
<line x1="444.8" x2="444.8" y1="551.7" y2="554.7" class="tk"/>
<text x="444.8" y="566" text-anchor="middle" class="l">E</text>
<path d="M414.4 488.2V551.7H455.7" class="ax"/>
<text x="332.35" y="581.7" text-anchor="middle" class="t">size</text>
<text x="435.05" y="581.7" text-anchor="middle" class="t">parity</text>
<text x="475.6" y="477.7" class="t tt">(o) life forms</text>
<rect x="502.59" y="544.5" width="11.74" height="5.1" fill="#619CFF"/>
<rect x="515.63" y="539.25" width="11.74" height="10.35" fill="#F8766D"/>
<rect x="528.67" y="518.25" width="11.74" height="31.35" fill="#619CFF"/>
<rect x="541.71" y="490" width="11.74" height="59.6" fill="#F8766D"/>
<rect x="554.76" y="509.25" width="11.74" height="40.35" fill="#619CFF"/>
<rect x="567.8" y="532.25" width="11.74" height="17.35" fill="#F8766D"/>
<rect x="580.84" y="542.25" width="11.74" height="7.35" fill="#619CFF"/>
<rect x="593.88" y="545.75" width="11.74" height="3.85" fill="#F8766D"/>
<rect x="606.92" y="547" width="11.74" height="2.6" fill="#619CFF"/>
<rect x="645.1" y="494.4" width="18" height="55.2" fill="#619CFF"/>
<rect x="664.1" y="490" width="18.2" height="59.6" fill="#F8766D"/>
<line x1="494.4" x2="497.9" y1="548.9" y2="548.9" class="tk"/>
<text x="491.65" y="552.8" text-anchor="end" class="l">0</text>
<line x1="494.4" x2="497.9" y1="525.95" y2="525.95" class="tk"/>
<text x="491.65" y="529.85" text-anchor="end" class="l">20</text>
<line x1="494.4" x2="497.9" y1="503" y2="503" class="tk"/>
<text x="491.65" y="506.9" text-anchor="end" class="l">40</text>
<line x1="521.5" x2="521.5" y1="551.7" y2="554.7" class="tk"/>
<text x="521.5" y="566" text-anchor="middle" class="l">2</text>
<line x1="547.58" x2="547.58" y1="551.7" y2="554.7" class="tk"/>
<text x="547.58" y="566" text-anchor="middle" class="l">4</text>
<line x1="573.67" x2="573.67" y1="551.7" y2="554.7" class="tk"/>
<text x="573.67" y="566" text-anchor="middle" class="l">6</text>
<line x1="599.75" x2="599.75" y1="551.7" y2="554.7" class="tk"/>
<text x="599.75" y="566" text-anchor="middle" class="l">8</text>
<path d="M497.9 488.2V551.7H623.2" class="ax"/>
<line x1="639.1" x2="642.6" y1="548.9" y2="548.9" class="tk"/>
<text x="636.35" y="552.8" text-anchor="end" class="l">0</text>
<line x1="639.1" x2="642.6" y1="510" y2="510" class="tk"/>
<text x="636.35" y="513.9" text-anchor="end" class="l">50</text>
<line x1="654.1" x2="654.1" y1="551.7" y2="554.7" class="tk"/>
<text x="654.1" y="566" text-anchor="middle" class="l">O</text>
<line x1="673.2" x2="673.2" y1="551.7" y2="554.7" class="tk"/>
<text x="673.2" y="566" text-anchor="middle" class="l">E</text>
<path d="M642.6 488.2V551.7H684.2" class="ax"/>
<text x="560.55" y="581.7" text-anchor="middle" class="t">size</text>
<text x="663.4" y="581.7" text-anchor="middle" class="t">parity</text>
</svg>
</body></html>
